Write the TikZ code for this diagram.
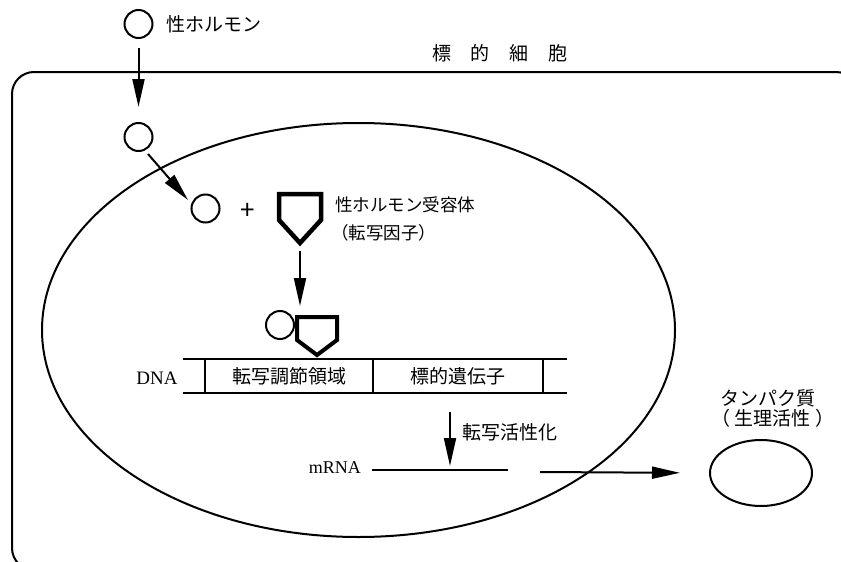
\documentclass[tikz,border=0pt]{standalone}
\usepackage{fontspec}
\setmainfont{Liberation Serif}
\newfontfamily\jp{Noto Sans CJK JP}
\usetikzlibrary{arrows.meta,shapes.geometric}
\begin{document}
\begin{tikzpicture}[x=1pt,y=-1pt,
  ln/.style={line width=2pt},
  arr/.style={line width=2pt,-{Triangle[length=28pt,width=12pt]}},
  mol/.style={circle,draw,line width=2pt,minimum size=28pt,inner sep=0pt},
  jtxt/.style={font=\jp\fontsize{19}{22}\selectfont,inner sep=0pt},
  jsmall/.style={font=\jp\fontsize{17.5}{21}\selectfont,inner sep=0pt},
  recep/.style={line width=4.5pt,line join=miter},
  dnabox/.style={draw,line width=2.5pt,minimum height=34pt,inner sep=0pt,font=\jp\fontsize{19}{22}\selectfont}
]
\useasboundingbox (0,0) rectangle (841,562);
% cell
\begin{scope}
  \clip (0,0) rectangle (841,562);
  \draw[ln,rounded corners=22pt] (12,72) rectangle (858,570);
\end{scope}
\node[jtxt] (cell) at (500,53) {標\kern20pt 的\kern20pt 細\kern20pt 胞};

% nucleus
\node[draw,ln,ellipse,inner sep=0pt,minimum width=633pt,minimum height=414pt] (nuc) at (358.5,330) {};

% hormone outside
\node[mol] (h1) at (138.5,24) {};
\node[jtxt,anchor=west] (hlab) at (166,24) {性ホルモン};
\node[mol] (h2) at (138.5,137) {};
\draw[arr,shorten <=9pt,shorten >=15pt] (h1) -- (h2);

% hormone in nucleus
\node[mol] (h3) at (205.5,208.5) {};
\coordinate (a2s) at (148,154);
\coordinate (a2e) at (188,200);
\draw[arr] (a2s) -- (a2e);
\node[font=\jp\fontsize{26}{28}\selectfont,inner sep=0pt] (plus) at (248,211) {+};

% receptor
\draw[recep] (279,194) -- (321,194) -- (321,220) -- (300,243) -- (279,220) -- cycle;
\coordinate (rtip) at (300,243);
\node[jsmall,anchor=west] (rlab1) at (335,205) {性ホルモン受容体};
\node[jsmall,anchor=west] (rlab2) at (331,233) {（転写因子）};

% bound complex
\node[mol] (hb) at (280,325) {};
\draw[recep,line width=4pt] (297,317) -- (337,317) -- (337,340) -- (317,355) -- (297,340) -- cycle;
\coordinate (btop) at (300,315);
\draw[arr,shorten <=8pt,shorten >=9pt] (rtip) -- (btop);

% DNA
\coordinate (d1) at (183,359);
\coordinate (d2) at (567,359);
\coordinate (d3) at (183,393);
\coordinate (d4) at (567,393);
\draw[ln] (d1) -- (d2);
\draw[ln] (d3) -- (d4);
\node[dnabox,minimum width=168pt] (reg) at (289,376) {転写調節領域};
\node[dnabox,minimum width=170pt] (gene) at (458,376) {標的遺伝子};
\node[font=\fontsize{19}{22}\selectfont,inner sep=0pt] (dna) at (157,378) {DNA};

% transcription
\coordinate (ta1) at (450,412);
\coordinate (ta2) at (450,466);
\draw[arr] (ta1) -- (ta2);
\node[jtxt,anchor=west] (talab) at (462,432) {転写活性化};
\coordinate (m1) at (372,470);
\coordinate (m2) at (508,470);
\draw[ln] (m1) -- (m2);
\node[font=\fontsize{18}{21}\selectfont,inner sep=0pt,anchor=east] (mrna) at (361,468) {mRNA};

% protein
\node[draw,ln,ellipse,inner sep=0pt,minimum width=102pt,minimum height=66pt] (prot) at (761,473) {};
\coordinate (p1) at (540,472);
\draw[arr,shorten >=29pt] (p1) -- (prot.west);
\node[jtxt] (plab1) at (768,398) {タンパク質};
\node[jtxt] (plab2) at (773,418) {（ 生理活性 ）};
\end{tikzpicture}
\end{document}
